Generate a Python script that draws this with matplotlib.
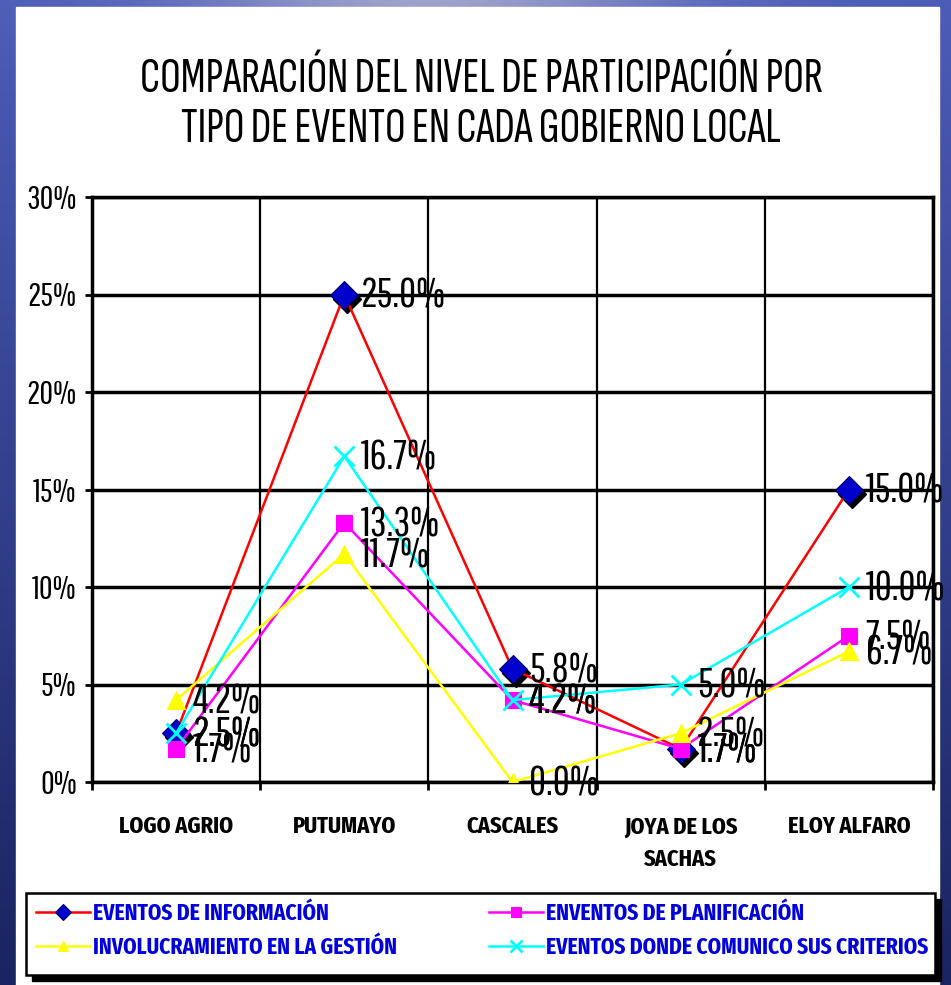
import matplotlib
matplotlib.use("Agg")
import matplotlib.pyplot as plt
import matplotlib.transforms as mtransforms
from matplotlib.patches import Rectangle
from matplotlib.ticker import FixedLocator, FuncFormatter
import numpy as np

plt.rcParams["font.family"] = ["Fira Sans Extra Condensed", "DejaVu Sans"]

# data
categories = ["LOGO AGRIO", "PUTUMAYO", "CASCALES", "JOYA DE LOS\nSACHAS", "ELOY ALFARO"]
informacion = [2.5, 25.0, 5.8, 1.7, 15.0]
planificacion = [1.7, 13.3, 4.2, 1.7, 7.5]
involucramiento = [4.2, 11.7, 0.0, 2.5, 6.7]
criterios = [2.5, 16.7, 4.2, 5.0, 10.0]
series_names = ["EVENTOS DE INFORMACIÓN", "ENVENTOS DE PLANIFICACIÓN",
                "INVOLUCRAMIENTO EN LA GESTIÓN", "EVENTOS DONDE COMUNICO SUS CRITERIOS"]

NUM_FONT = ["Pathway Gothic One", "DejaVu Sans"]
TITLE_FONT = ["Sofia Sans Extra Condensed", "DejaVu Sans"]

W, H = 951, 985
fig = plt.figure(figsize=(W / 100, H / 100), dpi=100)

# blue slide background
bg = fig.add_axes([0, 0, 1, 1], zorder=-10)
gx = np.linspace(0, 1, 300)
gy = np.linspace(0, 1, 300)
GX, GY = np.meshgrid(gx, gy)
navy = np.array([0.10, 0.14, 0.38])
blue = np.array([0.30, 0.36, 0.72])
lav = np.array([0.62, 0.64, 0.80])
t = np.clip(GY, 0, 1)[..., None]
img = navy * (1 - t) + blue * t
glow = (np.exp(-((GX - 0.45) / 0.25) ** 2) * np.clip((GY - 0.9) / 0.1, 0, 1))[..., None]
img = img * (1 - glow) + lav * glow
bg.imshow(img, aspect="auto", extent=[0, 1, 0, 1], origin="lower")
bg.add_patch(Rectangle((16 / W, 0), (939 - 16) / W, 1 - 7 / H, color="white"))
bg.set_xlim(0, 1)
bg.set_ylim(0, 1)
bg.axis("off")

ax = fig.add_axes([92 / W, 1 - 782 / H, (933 - 92) / W, (782 - 197) / H])
x = np.arange(len(categories))

styles = [
    (informacion, "red", "D", "#0000cc", 14),
    (planificacion, "magenta", "s", "magenta", 11),
    (involucramiento, "yellow", "^", "yellow", 13),
    (criterios, "cyan", "x", "cyan", 14),
]

shadow = ax.transData + mtransforms.ScaledTranslation(3 / 100, -4 / 100, fig.dpi_scale_trans)
ax.plot(x, informacion, linestyle="none", marker="D", markersize=14, color="black",
        transform=shadow, zorder=3)

handles = []
for vals, lc, mk, mc, ms in styles:
    h, = ax.plot(x, vals, color=lc, lw=1.8, marker=mk, markersize=ms,
                 markerfacecolor=mc, markeredgecolor=mc if mk != "D" else "#000066",
                 markeredgewidth=2 if mk == "x" else 0.8, zorder=4)
    handles.append(h)
    for xi, v in zip(x, vals):
        ax.annotate(f"{v:.1f}%", (xi, v), xytext=(12, -1), textcoords="offset points",
                    ha="left", va="center", fontsize=30, color="black", zorder=6,
                    family=NUM_FONT)

ax.set_xlim(-0.5, 4.5)
ax.set_ylim(0, 30)
ax.yaxis.set_major_locator(FixedLocator(np.arange(0, 31, 5)))
ax.yaxis.set_major_formatter(FuncFormatter(lambda v, p: f"{v:.0f}%"))
ax.set_xticks(x)
ax.set_xticklabels(categories, fontsize=17.5, fontweight="bold", linespacing=1.5)
ax.set_xticks(np.arange(-0.5, 4.6, 1), minor=True)
ax.tick_params(axis="x", which="major", length=0, pad=24)
ax.tick_params(axis="x", which="minor", length=6, width=2, direction="out")
ax.tick_params(axis="y", length=5, width=2, direction="out", pad=6, labelsize=24)
for lab in ax.get_yticklabels():
    lab.set_family(NUM_FONT)
ax.grid(True, axis="y", which="major", color="black", lw=2.5)
ax.grid(True, axis="x", which="minor", color="black", lw=1.6)
for s in ax.spines.values():
    s.set_color("black")
    s.set_linewidth(2.5)
ax.set_axisbelow(True)

fig.text(481 / W, 1 - 104 / H, "COMPARACIÓN DEL NIVEL DE PARTICIPACIÓN POR\nTIPO DE EVENTO EN CADA GOBIERNO LOCAL",
         ha="center", va="center", fontsize=37, fontweight="bold", linespacing=1.15,
         family=TITLE_FONT)

# legend box with shadow
lx0, ly0, lx1, ly1 = 26, 893, 935, 975
bg.add_patch(Rectangle(((lx0 + 6) / W, 1 - (ly1 + 6) / H), (lx1 - lx0) / W, (ly1 - ly0) / H,
                       color="black", zorder=1))
bg.add_patch(Rectangle((lx0 / W, 1 - ly1 / H), (lx1 - lx0) / W, (ly1 - ly0) / H,
                       facecolor="white", edgecolor="black", lw=1.8, zorder=2))
order = [0, 2, 1, 3]
leg = fig.legend([handles[i] for i in order], [series_names[i] for i in order],
                 loc="upper left", ncol=2, bbox_to_anchor=(36 / W, 1 - 902 / H),
                 frameon=False, handlelength=2.3, handletextpad=0.15,
                 columnspacing=3.95, borderpad=0, labelspacing=0.45, markerscale=0.6,
                 borderaxespad=0, prop={"size": 16.8, "weight": "bold"})
for t in leg.get_texts():
    t.set_color("#0000dd")

fig.savefig("out.png", dpi=100)
